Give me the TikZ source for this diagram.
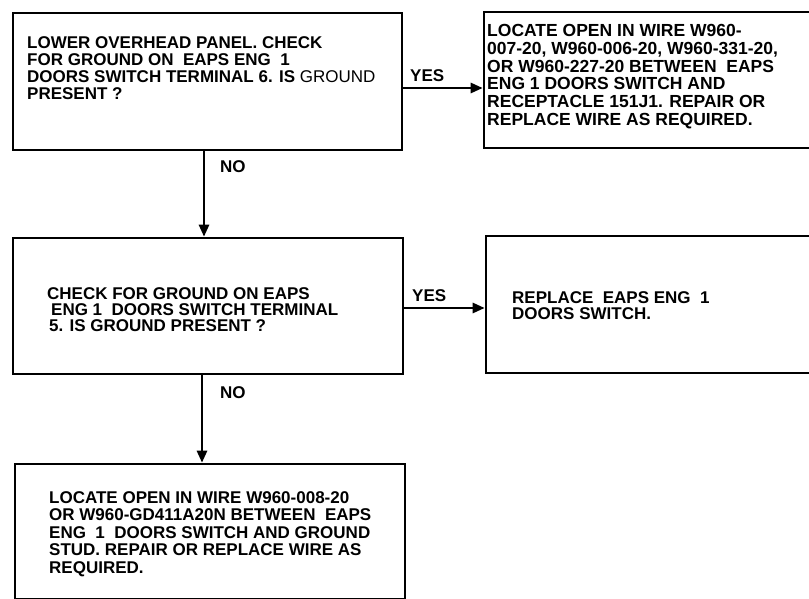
\documentclass[tikz,border=0pt]{standalone}
\usepackage{fontspec}
\setmainfont{Liberation Sans}
\usepackage{tikz}
\usetikzlibrary{arrows.meta,positioning}
\tikzset{
  chkbox/.style={rectangle, draw=black, line width=2.6pt, inner sep=0pt},
  chktext/.style={anchor=north west, align=left, inner sep=0pt,
                  font=\fontsize{17}{17}\selectfont\bfseries},
  answer/.style={anchor=base west, inner sep=0pt,
                 font=\fontsize{17}{17}\selectfont\bfseries},
  flow/.style={-{Triangle[length=12pt,width=10pt]}, line width=2.6pt},
}

\begin{document}
\begin{tikzpicture}[x=1pt, y=-1pt]
  \useasboundingbox (0,0) rectangle (809,599);
  \clip (0,0) rectangle (809,599);

  % ---- the boxes -------------------------------------------------------------
  \node[chkbox, minimum width=389pt, minimum height=137pt] (q1)   at (207.5,81.5) {};
  \node[chkbox, minimum width=366pt, minimum height=136pt] (fix1) at (667,80) {};
  \node[chkbox, minimum width=390pt, minimum height=136pt] (q2)   at (208,306) {};
  \node[chkbox, minimum width=364pt, minimum height=137pt] (fix2) at (668,304.5) {};
  \node[chkbox, minimum width=390pt, minimum height=135pt] (fix3) at (210,531.5) {};

  % ---- what they say ---------------------------------------------------------
  \node[chktext] (q1txt) at (27,36)
    {LOWER OVERHEAD PANEL. CHECK\\
     FOR GROUND ON~ EAPS ENG~ 1\\
     DOORS SWITCH TERMINAL 6. IS {\mdseries GROUND}\\
     PRESENT ?};
  \node[chktext, font=\fontsize{17.5}{17.8}\selectfont\bfseries] (fix1txt) at (487,24)
    {LOCATE OPEN IN WIRE W960-\\
     007-20, W960-006-20, W960-331-20,\\
     OR W960-227-20 BETWEEN~ EAPS\\
     ENG 1 DOORS SWITCH AND\\
     RECEPTACLE 151J1. REPAIR OR\\
     REPLACE WIRE AS REQUIRED.};
  \node[chktext, font=\fontsize{17}{16}\selectfont\bfseries] (q2txt) at (47,287)
    {CHECK FOR GROUND ON EAPS\\
     \hspace{4pt}ENG 1~ DOORS SWITCH TERMINAL\\
     \hspace{2pt}5. IS GROUND PRESENT ?};
  \node[chktext, font=\fontsize{17}{16}\selectfont\bfseries] (fix2txt) at (512,291)
    {REPLACE~ EAPS ENG~ 1\\
     DOORS SWITCH.};
  \node[chktext, font=\fontsize{17}{17.5}\selectfont\bfseries] (fix3txt) at (49,491)
    {LOCATE OPEN IN WIRE W960-008-20\\
     OR W960-GD411A20N BETWEEN~ EAPS\\
     ENG~ 1~ DOORS SWITCH AND GROUND\\
     STUD. REPAIR OR REPLACE WIRE AS\\
     REQUIRED.};

  % ---- the answers -----------------------------------------------------------
  \draw[flow] ([yshift=-6.5pt]q1.east) -- ([yshift=-6.5pt]q1.east -| fix1.west);
  \draw[flow] ([xshift=-3.5pt]q1.south) -- ([xshift=-3.5pt]q1.south |- q2.north);
  \draw[flow] ([yshift=-2pt]q2.east) -- ([yshift=-2pt]q2.east -| fix2.west);
  \draw[flow] ([xshift=-6pt]q2.south) -- ([xshift=-6pt]q2.south |- fix3.north);

  \node[answer] (yes1) at (410,82)  {YES};
  \node[answer] (no1)  at (220,173) {NO};
  \node[answer] (yes2) at (412,301) {YES};
  \node[answer] (no2)  at (220,398) {NO};
\end{tikzpicture}
\end{document}
